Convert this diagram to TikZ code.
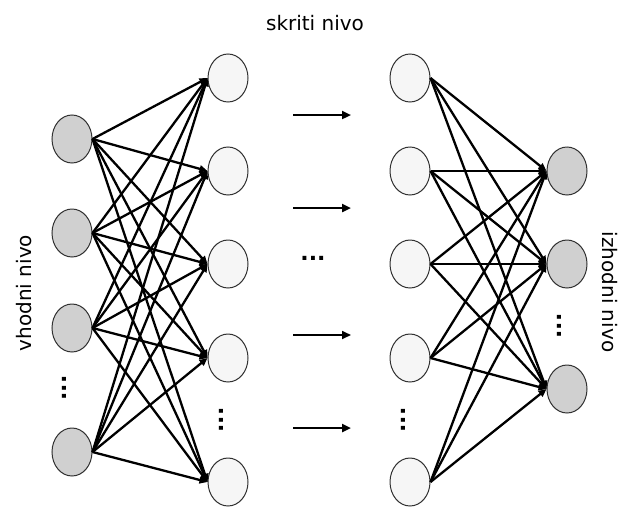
\documentclass[tikz,border=0pt]{standalone}
\usepackage{fontspec}
\setmainfont{DejaVu Sans}
\usetikzlibrary{arrows.meta,shapes.geometric}
\definecolor{ingray}{RGB}{208,208,208}
\definecolor{hidlight}{RGB}{246,246,246}
\definecolor{rim}{RGB}{50,50,50}
\begin{document}
\begin{tikzpicture}[x=1pt,y=-1pt,
  neuron/.style={ellipse,draw=rim,line width=1pt,minimum width=40pt,minimum height=48pt,inner sep=0pt},
  innode/.style={neuron,fill=ingray},
  hidnode/.style={neuron,fill=hidlight},
  outnode/.style={neuron,fill=ingray},
  link/.style={line width=2.3pt,-{Triangle[length=8pt,width=7pt]}},
  flow/.style={line width=2.3pt,-{Triangle[length=9pt,width=8pt]}},
  lbl/.style={font=\fontsize{20}{24}\selectfont,inner sep=0pt},
  vdots/.style={font=\bfseries\fontsize{22}{22}\selectfont,rotate=90,inner sep=0pt},
  hdots/.style={font=\bfseries\fontsize{22}{22}\selectfont,inner sep=0pt}]
\useasboundingbox (0,0) rectangle (620,506);
% input layer
\node[innode] (i1) at (72,139) {};
\node[innode] (i2) at (72,233) {};
\node[innode] (i3) at (72,328) {};
\node[innode] (i4) at (72,452) {};
\node[vdots] (id) at (64,388) {...};
% first hidden layer
\node[hidnode] (h1) at (228,78) {};
\node[hidnode] (h2) at (228,171) {};
\node[hidnode] (h3) at (228,264) {};
\node[hidnode] (h4) at (228,358) {};
\node[hidnode] (h5) at (228,482) {};
\node[vdots] (hd) at (221,420) {...};
% last hidden layer
\node[hidnode] (g1) at (410,78) {};
\node[hidnode] (g2) at (410,171) {};
\node[hidnode] (g3) at (410,264) {};
\node[hidnode] (g4) at (410,358) {};
\node[hidnode] (g5) at (410,482) {};
\node[vdots] (gd) at (403,420) {...};
% output layer
\node[outnode] (o1) at (567,171) {};
\node[outnode] (o2) at (567,264) {};
\node[outnode] (o3) at (567,389) {};
\node[vdots] (od) at (559,326) {...};
% connections input -> hidden
\foreach \i in {1,2,3,4}{
  \foreach \h in {1,2,3,4,5}{
    \draw[link] (i\i.east) -- (h\h.west);
  }
}
% connections hidden -> output
\foreach \g in {1,2,3,4,5}{
  \foreach \o in {1,2,3}{
    \draw[link] (g\g.east) -- (o\o.west);
  }
}
% middle arrows
\coordinate (m1s) at (293,115); \coordinate (m1e) at (351,115);
\coordinate (m2s) at (293,208); \coordinate (m2e) at (351,208);
\coordinate (m3s) at (293,335); \coordinate (m3e) at (351,335);
\coordinate (m4s) at (293,428); \coordinate (m4e) at (351,428);
\draw[flow] (m1s) -- (m1e);
\draw[flow] (m2s) -- (m2e);
\draw[flow,line width=1.7pt] (m3s) -- (m3e);
\draw[flow] (m4s) -- (m4e);
\node[hdots] (md) at (313,258) {...};
% labels
\node[lbl] (top) at (315,23) {skriti nivo};
\node[lbl,rotate=90] (left) at (24,293) {vhodni nivo};
\node[lbl,rotate=-90] (right) at (610,292) {izhodni nivo};
\end{tikzpicture}
\end{document}
